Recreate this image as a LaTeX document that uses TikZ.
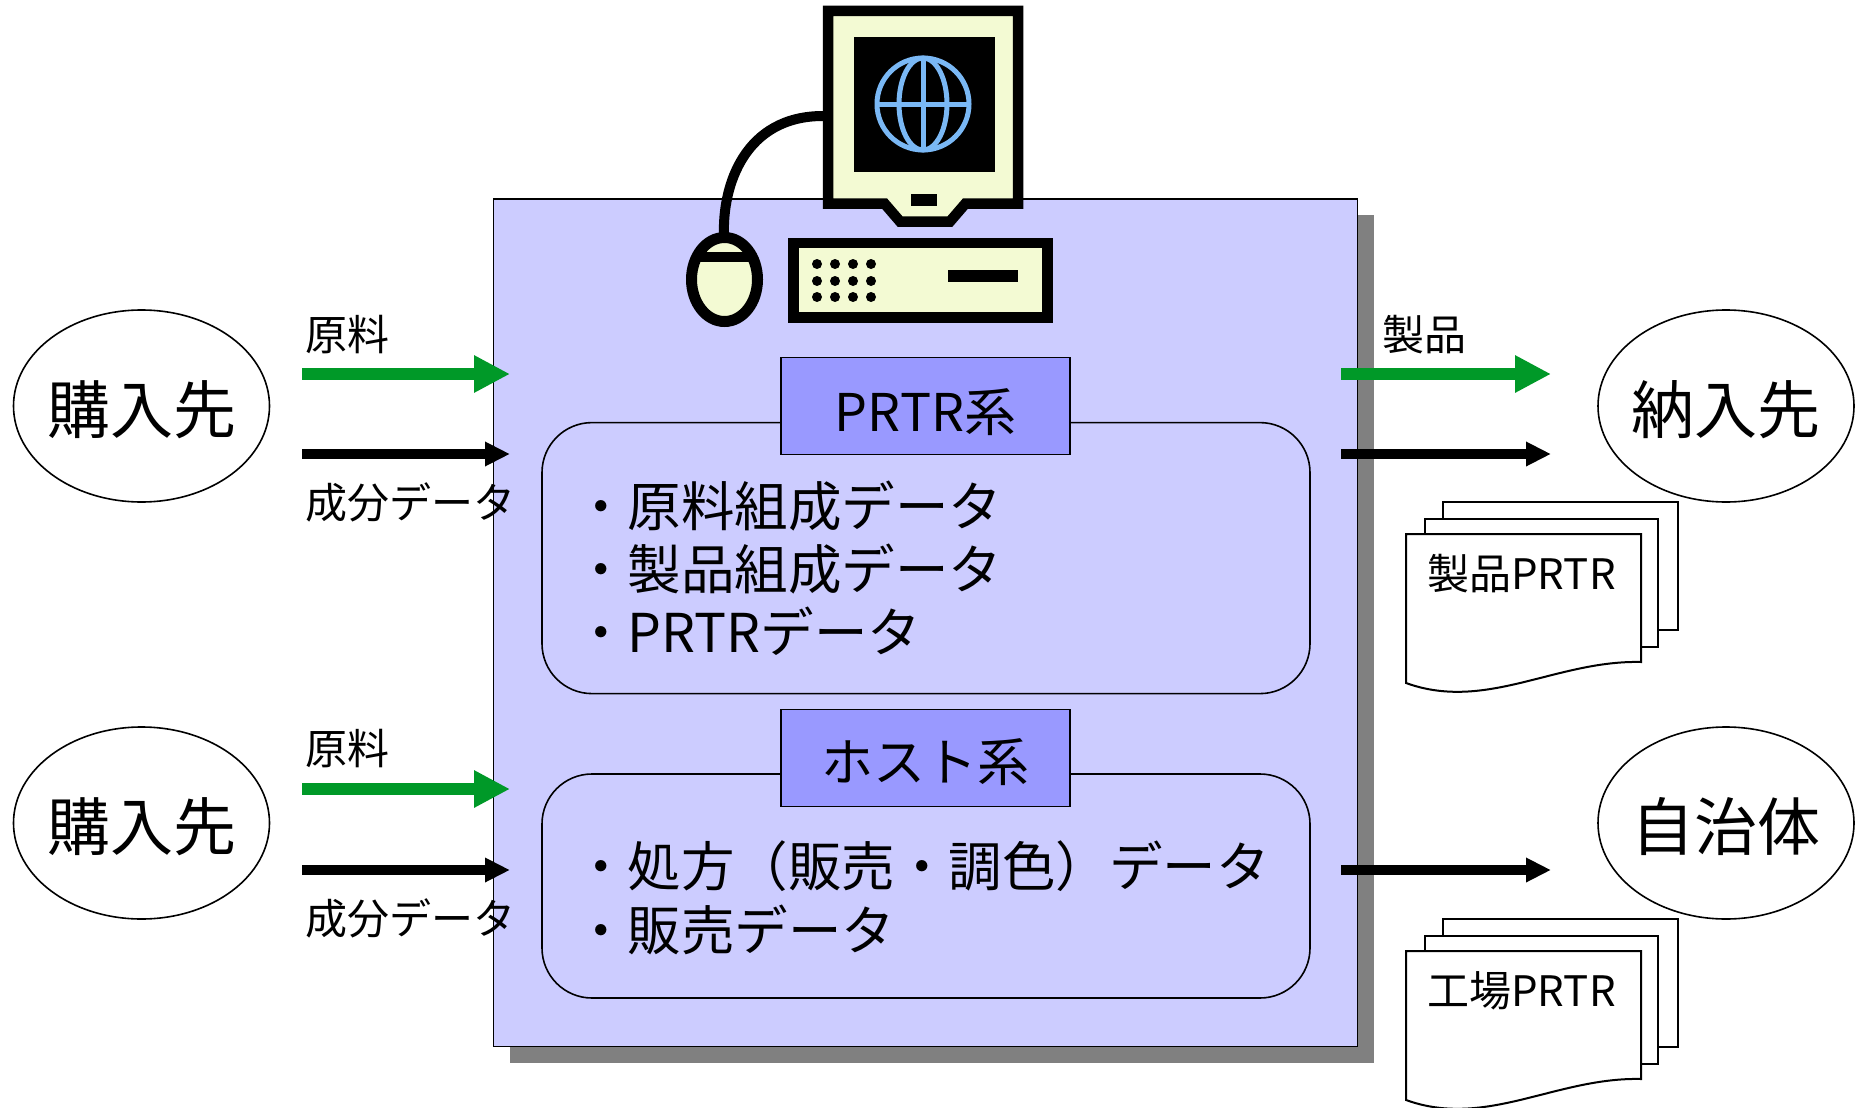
\documentclass[tikz,border=0pt]{standalone}
\usepackage{fontspec}
\setmainfont{Noto Sans CJK JP}
\usetikzlibrary{arrows.meta,shapes.geometric}
\definecolor{panel}{HTML}{CCCCFF}
\definecolor{header}{HTML}{9999FF}
\definecolor{shadowgray}{HTML}{808080}
\definecolor{cream}{HTML}{F3FAD3}
\definecolor{globeblue}{HTML}{7AB8F5}
\definecolor{flow}{RGB}{0,153,40}

\begin{document}
\begin{tikzpicture}[x=1pt,y=-1pt,
  party/.style={ellipse,draw,line width=1.6pt,fill=white,minimum width=256pt,
    minimum height=192pt,inner sep=0pt},
  partyname/.style={inner sep=0pt,font=\fontsize{63}{63}\selectfont},
  groupbox/.style={draw,line width=1.6pt,fill=panel,rounded corners=50pt,
    minimum width=768pt,inner sep=0pt},
  headbox/.style={draw,line width=1.8pt,fill=header,minimum width=289pt,
    minimum height=97pt,inner sep=0pt},
  headtext/.style={inner sep=0pt,font=\fontsize{52}{52}\selectfont},
  item/.style={anchor=base west,inner sep=0pt,font=\fontsize{53.5}{53.5}\selectfont},
  tag/.style={anchor=base west,inner sep=0pt,font=\fontsize{42}{42}\selectfont},
  goods/.style={draw=flow,line width=12pt,-{Triangle[length=36pt,width=35pt]}},
  info/.style={draw=black,line width=10pt,-{Triangle[length=25pt,width=23pt]}},
  hw/.style={draw=black,fill=cream,line width=10.5pt,miter limit=10},
  pics/docstack/.style={code={
    \draw[line width=2pt,fill=white] (37,-32) rectangle (272,96);
    \draw[line width=2pt,fill=white] (19,-15) rectangle (252,113);
    \draw[line width=2pt,fill=white] (0,0) -- (235,0) -- (235,128)
      .. controls (150,126) and (80,178) .. (0,149) -- cycle;
    \node[tag] (-label) at (21,55) {#1};
  }}
]
\useasboundingbox (0,0) rectangle (1856,1108);

% system frame with its drop shadow
\fill[shadowgray] (510,215) rectangle (1374,1063);
\draw[line width=1.5pt,fill=panel] (493.6,198.9) rectangle (1357.7,1046.4);

% workstation: cable, mouse, base unit, monitor
\draw[line width=10pt] (823,116) .. controls (745,116) and (722,185) .. (724,236);
\fill[cream] (724.5,279.5) ellipse [x radius=33, y radius=42];
\begin{scope}
  \clip (724.5,279.5) ellipse [x radius=33, y radius=42];
  \draw[line width=10pt] (680,257) -- (770,257);
\end{scope}
\draw[line width=11pt] (724.5,279.5) ellipse [x radius=33, y radius=42];

\draw[hw] (793.5,243) rectangle (1047.5,317.5);
\foreach \cx in {817,835,853,871}
  \foreach \cy in {264,281,297}
    \fill (\cx,\cy) circle [radius=5];
\fill (948,270) rectangle (1018,282);

\draw[hw,line join=miter] (828,11) -- (1018,11) -- (1018,203.5) -- (965.5,203.5)
  -- (950,221.5) -- (900,221.5) -- (884.5,203.5) -- (828,203.5) -- cycle;
\fill (854,37) rectangle (995,172);
\fill (911,194) rectangle (937,206);
\begin{scope}[draw=globeblue,line width=5pt]
  \draw (923,104) circle [radius=46];
  \draw (923,104) ellipse [x radius=24, y radius=46];
  \draw (923,58) -- (923,150);
  \draw (877,104) -- (969,104);
\end{scope}

% PRTR group
\node[groupbox,minimum height=271pt] (prtrbox) at (926,558.1) {};
\node[headbox] (prtrhead) at (925.5,406) {};
\node[headtext] (prtrtitle) at (925.5,412) {PRTR系};
\node[item] (p1) at (574,526) {・原料組成データ};
\node[item] (p2) at (574,589) {・製品組成データ};
\node[item] (p3) at (574,652) {・PRTRデータ};

% host group
\node[groupbox,minimum height=224pt] (hostbox) at (926,886) {};
\node[headbox] (hosthead) at (925.5,758) {};
\node[headtext] (hosttitle) at (925.5,762) {ホスト系};
\node[item] (h1) at (574,886) {・処方（販売・調色）データ};
\node[item] (h2) at (574,950) {・販売データ};

% outside parties
\node[party] (sup1) at (141.5,406) {};
\node[party] (sup2) at (141.5,823) {};
\node[party] (cust) at (1726,406) {};
\node[party] (gov)  at (1726,823) {};
\node[partyname] (sup1n) at (141.5,410) {購入先};
\node[partyname] (sup2n) at (141.5,827) {購入先};
\node[partyname] (custn) at (1726,410) {納入先};
\node[partyname] (govn)  at (1726,827) {自治体};

% flows into and out of the system
\coordinate (a1s) at (302,374);  \coordinate (a1e) at (510,374);
\coordinate (b1s) at (302,454);  \coordinate (b1e) at (510,454);
\coordinate (a2s) at (302,789);  \coordinate (a2e) at (510,789);
\coordinate (b2s) at (302,870);  \coordinate (b2e) at (510,870);
\coordinate (c1s) at (1341,374); \coordinate (c1e) at (1551,374);
\coordinate (d1s) at (1341,454); \coordinate (d1e) at (1551,454);
\coordinate (d2s) at (1341,870); \coordinate (d2e) at (1551,870);
\draw[goods] (a1s) -- (a1e);
\draw[info]  (b1s) -- (b1e);
\draw[goods] (a2s) -- (a2e);
\draw[info]  (b2s) -- (b2e);
\draw[goods] (c1s) -- (c1e);
\draw[info]  (d1s) -- (d1e);
\draw[info]  (d2s) -- (d2e);

\node[tag] (m1) at (305,350) {原料};
\node[tag] (s1) at (305,518) {成分データ};
\node[tag] (m2) at (305,764) {原料};
\node[tag] (s2) at (305,934) {成分データ};
\node[tag] (pr) at (1382,350) {製品};

% reports handed out
\pic (rep1) at (1406,534) {docstack=製品PRTR};
\pic (rep2) at (1406,951) {docstack=工場PRTR};
\end{tikzpicture}
\end{document}
